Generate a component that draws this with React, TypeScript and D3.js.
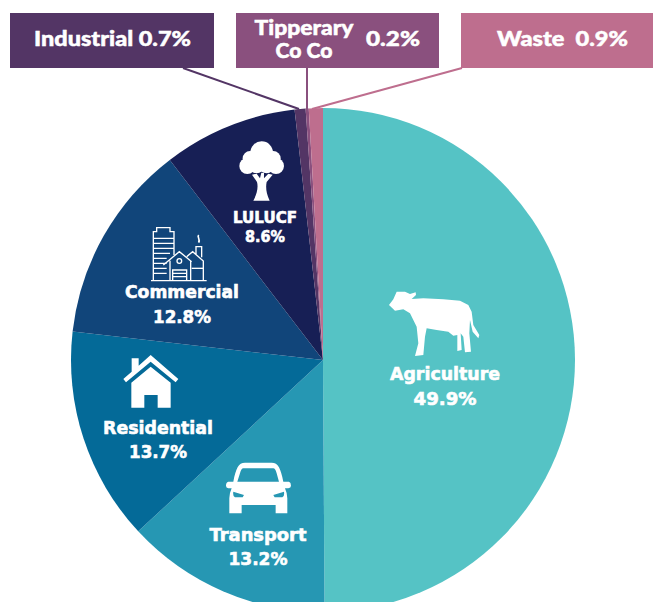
import React from "react";
import * as d3 from "d3";

const W = 653, H = 602;
const sectors = ["Agriculture", "Transport", "Residential", "Commercial", "LULUCF", "Industrial", "Tipperary Co Co", "Waste"];
const shares = [49.9, 13.2, 13.7, 12.8, 8.6, 0.7, 0.2, 0.9];
const colours = ["#55C3C5", "#2697B3", "#046A98", "#11457A", "#171F55", "#533565", "#8A507E", "#BE6E8E"];

const cx = 323, cy = 360, R = 252;

const pie = d3.pie<number>().sort(null).value((d) => d);
const arc = d3.arc<d3.PieArcDatum<number>>().innerRadius(0).outerRadius(R);

const pieFont = "'DejaVu Sans', sans-serif";
const boxFont = "Lato, sans-serif";

const inLabels = [
  { i: 0, x: 445, y1: 380, y2: 405, fs: 18, w1: 110, w2: 63 },
  { i: 1, x: 258, y1: 541, y2: 565, fs: 18, w1: 97, w2: 59 },
  { i: 2, x: 158, y1: 434, y2: 458, fs: 18, w1: 110, w2: 58 },
  { i: 3, x: 182, y1: 298, y2: 323, fs: 18, w1: 114, w2: 58 },
  { i: 4, x: 265, y1: 223, y2: 242, fs: 15, w1: 64, w2: 40 },
];

const boxes = [
  { i: 5, x: 10, w: 204, y: 13, h: 55, lx: 183, px: 299 },
  { i: 6, x: 236, w: 203, y: 13, h: 55, lx: 307, px: 307 },
  { i: 7, x: 461, w: 192, y: 13, h: 55, lx: 462, px: 312 },
];

const pct = (v: number) => `${v.toFixed(1)}%`;

function Icons() {
  return (
    <g fill="#fff" stroke="none">
      {/* tree */}
      <g transform="translate(120,130) scale(0.3333)">
        <circle cx="425" cy="68" r="34" />
        <circle cx="390" cy="85" r="22" />
        <circle cx="460" cy="85" r="22" />
        <circle cx="382" cy="108" r="24" />
        <circle cx="468" cy="108" r="24" />
        <circle cx="410" cy="108" r="22" />
        <circle cx="440" cy="108" r="22" />
        <path d="M400 212C412 190 415 170 411 156L396 134L410 131L420 145L424 128H432L432 145L445 131L458 134L440 156C437 170 438 190 449 212Z" />
      </g>
      {/* cow */}
      <g transform="translate(370,270) scale(0.3333)">
        <path d="M57 105L70 88L80 65L105 65L120 72L137 67L138 75L125 87L160 85L220 88L270 92L295 105L305 125L310 165L328 195L325 205L308 185L300 150L298 190L303 245L285 247L280 200L272 190L275 240L262 243L262 195L250 197L235 185L200 180L170 175L165 200L160 255L135 258L145 220L140 170L120 130L100 118L75 122Z" />
      </g>
      {/* house */}
      <g transform="translate(90,340) scale(0.3333)">
        <path d="M182 45L265 117L257 127L182 65L108 127L100 117L125 95V55H146V77Z" />
        <path d="M182 80L242 128V203H203V165H163V203H124V128Z" />
      </g>
      {/* car */}
      <g transform="translate(90,340) scale(0.3333)">
        <path fillRule="evenodd" d="M465 368H545C565 368 572 385 580 425H597Q603 427 603 437Q603 443 595 445H585Q592 460 592 475V520H557V495H455V520H418V475Q418 460 425 445H415Q408 443 408 437Q408 427 415 425H430C438 385 445 368 465 368ZM460 385H550Q556 385 560 400L567 425H442L450 400Q454 385 460 385ZM430 455L462 465L458 472H435Q428 470 430 455ZM582 455L550 465L554 472H577Q584 470 582 455Z" />
      </g>
      {/* buildings */}
      <g transform="translate(120,130) scale(0.3333)" fill="none" stroke="#fff" strokeWidth="4">
        <path d="M93 452H260" />
        <path d="M100 452V305H110V293H150V305H162V375" />
        <path d="M100 325H162M100 340H162M100 355H162M100 370H150M100 385H140M100 400H140M100 415H140M100 430H140" />
        <path d="M130 405L178 365L215 395M150 392V452M212 392V452" />
        <path d="M200 380L218 365L250 393V452M228 372V350H245V382" />
        <circle cx="178" cy="393" r="7" />
        <path d="M158 452V420H200V452M158 430H200M158 440H200" />
        <path d="M215 415H250" />
        <path d="M236 315C230 322 242 326 236 338" strokeWidth="5" />
      </g>
    </g>
  );
}

export default function App() {
  const arcs = pie(shares);
  return (
    <svg width={W} height={H} viewBox={`0 0 ${W} ${H}`} style={{ position: "absolute", left: 0, top: 0, display: "block", background: "#fff" }}>
      <g transform={`translate(${cx},${cy})`}>
        {arcs.map((a, i) => (
          <path key={sectors[i]} d={arc(a) ?? ""} fill={colours[i]} />
        ))}
      </g>
      <Icons />
      {boxes.map((b) => (
        <g key={b.i}>
          <line x1={b.lx} y1={b.y + b.h} x2={b.px} y2={109} stroke={colours[b.i]} strokeWidth={2} />
          <rect x={b.x} y={b.y} width={b.w} height={b.h} fill={colours[b.i]} />
        </g>
      ))}
      <g fill="#fff" stroke="#fff" strokeWidth={0.5} fontFamily={boxFont} fontWeight={900} fontSize={21}>
        <text x={34} y={46} textLength={157} lengthAdjust="spacingAndGlyphs">{`${sectors[5]} ${pct(shares[5])}`}</text>
        <text x={304} y={35} textAnchor="middle" textLength={99} lengthAdjust="spacingAndGlyphs">Tipperary</text>
        <text x={304} y={58} textAnchor="middle" textLength={57} lengthAdjust="spacingAndGlyphs">Co Co</text>
        <text x={366} y={46} textLength={54} lengthAdjust="spacingAndGlyphs">{pct(shares[6])}</text>
        <text x={497} y={46} textLength={131} lengthAdjust="spacingAndGlyphs" xmlSpace="preserve">{`${sectors[7]}  ${pct(shares[7])}`}</text>
      </g>
      <g fill="#fff" stroke="#fff" strokeWidth={0.6} fontFamily={pieFont} fontWeight={700} textAnchor="middle">
        {inLabels.map((l) => (
          <g key={l.i} fontSize={l.fs}>
            <text x={l.x} y={l.y1} textLength={l.w1} lengthAdjust="spacingAndGlyphs">{sectors[l.i]}</text>
            <text x={l.x} y={l.y2} textLength={l.w2} lengthAdjust="spacingAndGlyphs">{pct(shares[l.i])}</text>
          </g>
        ))}
      </g>
    </svg>
  );
}
